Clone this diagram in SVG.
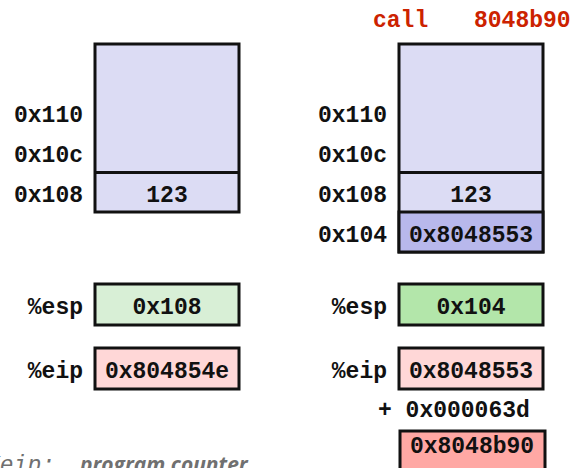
<svg xmlns="http://www.w3.org/2000/svg" width="574" height="468" viewBox="0 0 574 468">
<style>
.t{font-family:"Liberation Mono","Courier New",monospace;font-weight:bold;font-size:23px;fill:#111}
.e{text-anchor:end}
.m{text-anchor:middle}
.r{fill:#cc2200}
.b{stroke:#111;stroke-width:3}
.stk{fill:#dcdcf4}
.cap{font-family:"Open Sans","Liberation Sans",sans-serif;font-style:italic;font-weight:bold;font-size:21px;fill:#707070}
.capm{font-family:"Liberation Mono",monospace;font-style:italic;font-size:23px;fill:#707070}
</style>
<rect width="574" height="468" fill="#fff"/>
<g id="call-label">
<text class="t r" x="373" y="27">call</text>
<text class="t r" x="474" y="27">8048b90</text>
</g>
<g id="stack-before">
<rect class="b stk" x="95" y="44" width="144" height="168"/>
<line class="b" x1="95" y1="172.5" x2="239" y2="172.5"/>
<text class="t m" x="167" y="202">123</text>
<text class="t e" x="83" y="122">0x110</text>
<text class="t e" x="83" y="162">0x10c</text>
<text class="t e" x="83" y="202">0x108</text>
</g>
<g id="stack-after">
<rect class="b stk" x="399" y="44" width="144" height="208"/>
<rect class="b" x="399" y="212" width="144" height="40" fill="#b8b8ec"/>
<line class="b" x1="399" y1="172.5" x2="543" y2="172.5"/>
<text class="t m" x="471" y="202">123</text>
<text class="t m" x="471" y="242">0x8048553</text>
<text class="t e" x="387" y="122">0x110</text>
<text class="t e" x="387" y="162">0x10c</text>
<text class="t e" x="387" y="202">0x108</text>
<text class="t e" x="387" y="242">0x104</text>
</g>
<g id="esp-before">
<rect class="b" x="95" y="284" width="144" height="41" fill="#d8efd6"/>
<text class="t m" x="167" y="314">0x108</text>
<text class="t e" x="83" y="314">%esp</text>
</g>
<g id="eip-before">
<rect class="b" x="95" y="348" width="144" height="41" fill="#ffd7d7"/>
<text class="t m" x="167" y="378">0x804854e</text>
<text class="t e" x="83" y="378">%eip</text>
</g>
<g id="esp-after">
<rect class="b" x="399" y="284" width="144" height="41" fill="#b3e6aa"/>
<text class="t m" x="471" y="314">0x104</text>
<text class="t e" x="387" y="314">%esp</text>
</g>
<g id="eip-after">
<rect class="b" x="399" y="348" width="144" height="41" fill="#ffd7d7"/>
<text class="t m" x="471" y="378">0x8048553</text>
<text class="t e" x="387" y="378">%eip</text>
</g>
<g id="offset">
<text class="t" x="378" y="417">+ 0x000063d</text>
</g>
<g id="target">
<rect class="b" x="400" y="431" width="145" height="50" fill="#ffa8a4"/>
<text class="t m" x="472" y="453">0x8048b90</text>
</g>
<g id="caption">
<text class="capm" x="-14" y="472">%eip:</text>
<text class="cap" x="80" y="472">program counter</text>
</g>
<g id="connectors"></g>
</svg>
